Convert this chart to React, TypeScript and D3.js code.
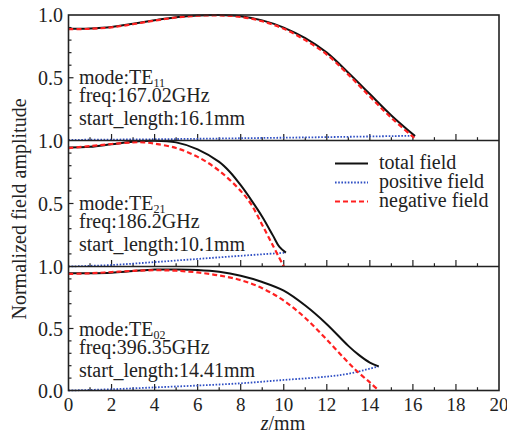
import React from "react";
import * as d3 from "d3";

// ---------- data ----------
const xTicks = [0, 2, 4, 6, 8, 10, 12, 14, 16, 18, 20];
const modes = ["11", "21", "02"];
const freqs = ["167.02GHz", "186.2GHz", "396.35GHz"];
const startLengths = ["16.1mm", "10.1mm", "14.41mm"];

// TE11
const te11Z = [0, 1, 2, 3, 4, 5, 6, 7, 8, 9, 10, 11, 12, 13, 14, 15, 16.1];
const te11Total = [0.89, 0.893, 0.905, 0.93, 0.958, 0.983, 0.997, 1.0, 0.99, 0.957, 0.9, 0.815, 0.7, 0.54, 0.37, 0.2, 0.035];
const te11Neg = [0.887, 0.89, 0.902, 0.927, 0.955, 0.98, 0.994, 0.997, 0.985, 0.95, 0.89, 0.8, 0.685, 0.525, 0.35, 0.18, 0.015];
const te11PosZ = [0, 4, 8, 12, 16.1];
const te11Pos = [0.005, 0.01, 0.018, 0.027, 0.038];

// TE21
const te21Z = [0, 1, 2, 3, 4, 5, 6, 7, 7.5, 8, 8.5, 9, 9.5, 9.8, 10.1];
const te21Total = [0.945, 0.95, 0.97, 0.99, 0.998, 0.985, 0.93, 0.83, 0.75, 0.645, 0.525, 0.395, 0.245, 0.155, 0.11];
const te21NegZ = [0, 1, 2, 3, 3.5, 4, 5, 6, 7, 8, 8.5, 9, 9.5, 10];
const te21Neg = [0.94, 0.955, 0.972, 0.985, 0.985, 0.975, 0.94, 0.87, 0.76, 0.6, 0.49, 0.33, 0.165, 0.0];
const te21PosZ = [0, 2, 4, 6, 8, 10.1];
const te21Pos = [0.0, 0.012, 0.035, 0.06, 0.085, 0.11];

// TE02
const te02Z = [0, 1, 2, 3, 4, 5, 6, 7, 8, 9, 10, 11, 12, 13, 13.5, 14, 14.41];
const te02Total = [0.945, 0.945, 0.95, 0.963, 0.975, 0.976, 0.972, 0.957, 0.925, 0.875, 0.805, 0.685, 0.535, 0.36, 0.285, 0.225, 0.195];
const te02NegZ = [0, 1, 2, 3, 4, 5, 6, 7, 8, 9, 10, 11, 12, 13, 13.5, 14, 14.41];
const te02Neg = [0.94, 0.945, 0.955, 0.965, 0.97, 0.966, 0.952, 0.928, 0.89, 0.825, 0.725, 0.585, 0.41, 0.225, 0.14, 0.065, 0.0];
const te02PosZ = [0, 2, 4, 6, 8, 10, 12, 13, 14.41];
const te02Pos = [0.0, 0.01, 0.025, 0.04, 0.058, 0.085, 0.112, 0.135, 0.195];

const legendLabels = ["total field", "positive field", "negative field"];

// ---------- layout ----------
const W = 507;
const H = 436;
const left = 68.5;
const right = 499;
const panelTops = [15, 140.5, 266.5];
const panelBottoms = [140.5, 266.5, 390.5];
const FONT = '"Liberation Serif", "Times New Roman", "DejaVu Serif", serif';
const INK = "#222";
const BLACK = "#111";
const BLUE = "#2f4fc4";
const RED = "#ff2020";

const x = d3.scaleLinear().domain([0, 20]).range([left, right]);

type Series = { z: number[]; v: number[] };
const panels: { total: Series; pos: Series; neg: Series }[] = [
  { total: { z: te11Z, v: te11Total }, pos: { z: te11PosZ, v: te11Pos }, neg: { z: te11Z, v: te11Neg } },
  { total: { z: te21Z, v: te21Total }, pos: { z: te21PosZ, v: te21Pos }, neg: { z: te21NegZ, v: te21Neg } },
  { total: { z: te02Z, v: te02Total }, pos: { z: te02PosZ, v: te02Pos }, neg: { z: te02NegZ, v: te02Neg } },
];

function pathFor(s: Series, y: d3.ScaleLinear<number, number>) {
  const pts: [number, number][] = s.z.map((z, i) => [z, s.v[i]]);
  return d3
    .line<[number, number]>()
    .x((d) => x(d[0]))
    .y((d) => y(d[1]))
    .curve(d3.curveCatmullRom.alpha(0.5))(pts) as string;
}

const textStyle = { fontFamily: FONT };

export default function App() {
  const minorX = d3.range(1, 20);
  const minorY = d3.range(1, 10).map((d) => d / 10);
  return (
    <svg width={W} height={H} style={{ position: "absolute", left: 0, top: 0, background: "#fff", fontFamily: FONT }}>
      {panels.map((p, i) => {
        const y = d3.scaleLinear().domain([0, 1]).range([panelBottoms[i], panelTops[i]]);
        const yLabels = i === 2 ? [0, 0.5, 1] : [0.5, 1];
        return (
          <g key={i}>
            {minorY.map((v) => (
              <line key={"yt" + v} x1={left} x2={left + (Math.abs(v - 0.5) < 1e-6 ? 5 : 3)} y1={y(v)} y2={y(v)} stroke={INK} strokeWidth={1.2} />
            ))}
            {minorX.map((v) => (
              <line key={"xt" + v} x1={x(v)} x2={x(v)} y1={panelBottoms[i]} y2={panelBottoms[i] - (v % 2 === 0 ? 6.5 : 3.3)} stroke={INK} strokeWidth={1.2} />
            ))}
            {yLabels.map((v) => (
              <text key={"yl" + v} x={63} y={y(v)} dy="0.35em" textAnchor="end" fontSize={20} fill={INK} style={textStyle}>
                {v.toFixed(1)}
              </text>
            ))}
            <path d={pathFor(p.pos, y)} fill="none" stroke={BLUE} strokeWidth={1.8} strokeDasharray="1.6 1.6" />
            <path d={pathFor(p.total, y)} fill="none" stroke={BLACK} strokeWidth={2} />
            <path d={pathFor(p.neg, y)} fill="none" stroke={RED} strokeWidth={2.2} strokeDasharray="5 3" />
            <text x={79} y={panelTops[i] + 69} fontSize={20} fill={INK} style={textStyle}>
              mode:TE
              <tspan fontSize={12} dy={3}>{modes[i]}</tspan>
            </text>
            <text x={79} y={panelTops[i] + 87} fontSize={20} fill={INK} style={textStyle}>
              freq:{freqs[i]}
            </text>
            <text x={79} y={panelTops[i] + 110} fontSize={20} fill={INK} style={textStyle}>
              start_length:{startLengths[i]}
            </text>
          </g>
        );
      })}
      <rect x={left} y={panelTops[0]} width={right - left} height={panelBottoms[2] - panelTops[0]} fill="none" stroke={INK} strokeWidth={1.6} />
      <line x1={left} x2={right} y1={panelBottoms[0]} y2={panelBottoms[0]} stroke={INK} strokeWidth={1.6} />
      <line x1={left} x2={right} y1={panelBottoms[1]} y2={panelBottoms[1]} stroke={INK} strokeWidth={1.6} />
      {xTicks.map((v) => (
        <text key={"xl" + v} x={x(v)} y={411} textAnchor="middle" fontSize={19} fill={INK} style={textStyle}>
          {v}
        </text>
      ))}
      <text x={283} y={430} textAnchor="middle" fontSize={20} fill={INK} style={textStyle}>
        <tspan fontStyle="italic">z</tspan>/mm
      </text>
      <text transform="translate(26,209) rotate(-90)" textAnchor="middle" fontSize={20} fill={INK} style={textStyle}>
        Normalized field amplitude
      </text>
      {legendLabels.map((lab, k) => {
        const ly = 163.5 + k * 19;
        return (
          <g key={lab}>
            <line
              x1={335}
              x2={368}
              y1={ly}
              y2={ly}
              stroke={k === 0 ? BLACK : k === 1 ? BLUE : RED}
              strokeWidth={k === 0 ? 2.2 : k === 1 ? 1.8 : 2.2}
              strokeDasharray={k === 0 ? undefined : k === 1 ? "1.6 1.6" : "5 3"}
            />
            <text x={379} y={ly + 5.5} fontSize={20} fill={INK} style={textStyle}>
              {lab}
            </text>
          </g>
        );
      })}
    </svg>
  );
}
